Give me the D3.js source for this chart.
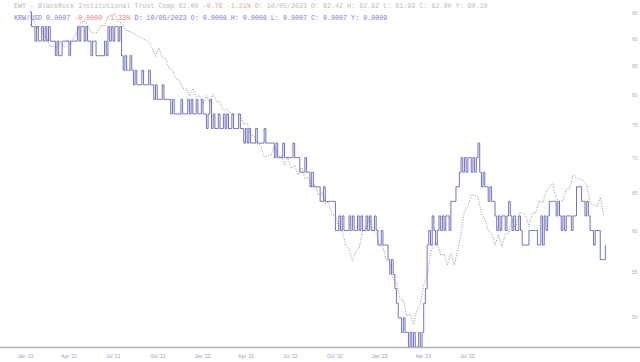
<!DOCTYPE html>
<html>
<head>
<meta charset="utf-8">
<script src="https://cdn.jsdelivr.net/npm/d3@7"></script>
<style>
  body { margin: 0; background: #fff; }
  svg { display: block; }
  text { font-family: 'Liberation Mono', 'DejaVu Sans Mono', monospace; }
</style>
</head>
<body>
<div id="chart"></div>
<script>
// EWY weekly closes (right axis, log scale)
var ewy = [
  92.6, 93.9, 92.0, 92.3, 90.6, 90.0, 88.6, 88.5, 88.2, 89.6,
  88.3, 89.8, 88.7, 90.4, 91.3, 93.2, 93.4, 92.7, 91.3, 91.0,
  91.3, 92.6, 92.4, 94.3, 94.6, 94.9, 93.2, 93.1, 91.7, 91.4,
  91.2, 90.9, 90.4, 90.1, 89.7, 89.4, 88.2, 86.7, 88.2, 86.5,
  86.4, 84.5, 84.2, 82.7, 82.5, 81.0, 81.1, 79.7, 81.0, 79.6,
  79.8, 78.3, 79.8, 78.7, 80.1, 78.7, 78.8, 77.3, 77.5, 77.0,
  76.8, 76.7, 76.5, 75.1, 75.2, 73.5, 73.3, 72.0, 71.8, 70.1,
  70.3, 70.4, 71.8, 70.1, 70.3, 68.9, 70.1, 68.4, 68.9, 67.5,
  68.6, 67.0, 67.2, 65.8, 66.1, 64.7, 65.0, 63.6, 63.7, 62.0,
  62.0, 60.3, 60.0, 58.2, 57.8, 56.3, 57.4, 57.8, 59.9, 60.2,
  61.8, 60.0, 59.7, 58.2, 58.0, 56.3, 56.1, 54.1, 53.8, 51.9,
  51.8, 50.1, 50.3, 49.2, 50.7, 51.4, 53.5, 54.6, 57.2, 58.4,
  58.5, 57.0, 57.1, 55.8, 57.2, 55.8, 57.5, 59.7, 62.6, 63.1,
  64.7, 64.7, 64.4, 62.3, 61.5, 60.0, 59.7, 58.2, 59.5, 58.0,
  59.5, 59.7, 61.5, 60.2, 62.3, 62.3, 62.0, 60.5, 62.3, 62.3,
  63.9, 63.6, 65.0, 65.8, 66.4, 64.2, 63.9, 63.9, 65.5, 65.6,
  67.5, 67.0, 66.9, 66.7, 66.1, 63.6, 63.4, 63.1, 64.4, 62.0
];

// KRW/USD twice-weekly closes, in units of 0.00001 USD
var krwUsd = [
  92, 91, 91, 90, 91, 90, 90, 91, 90, 91, 90, 91, 90, 90,
  90, 89, 90, 89, 89, 90, 90, 90, 90, 89, 90, 90, 90, 90,
  91, 90, 91, 91, 90, 91, 90, 90, 89, 90, 90, 89, 89, 89,
  89, 89, 90, 89, 91, 90, 91, 90, 91, 91, 90, 91, 89, 88,
  89, 88, 88, 89, 88, 87, 88, 87, 87, 87, 88, 87, 87, 87,
  88, 87, 87, 86, 87, 86, 86, 86, 87, 86, 86, 86, 86, 85,
  86, 85, 85, 85, 85, 86, 85, 85, 85, 86, 85, 86, 85, 85,
  86, 85, 85, 86, 85, 85, 84, 85, 86, 84, 85, 84, 84, 85,
  84, 84, 85, 84, 85, 84, 84, 85, 84, 84, 84, 85, 84, 84,
  83, 84, 83, 84, 83, 83, 83, 84, 83, 83, 83, 83, 84, 83,
  83, 83, 83, 83, 82, 83, 82, 82, 82, 83, 82, 82, 82, 82,
  82, 83, 82, 82, 82, 81, 81, 81, 82, 81, 81, 80, 81, 80,
  80, 80, 80, 79, 79, 80, 79, 79, 79, 79, 79, 79, 77, 77,
  78, 77, 78, 77, 77, 77, 78, 77, 78, 77, 77, 78, 77, 78,
  77, 77, 78, 77, 78, 77, 77, 78, 77, 76, 76, 77, 76, 76,
  76, 75, 74, 75, 74, 73, 72, 71, 71, 70, 71, 70, 70, 69,
  70, 69, 70, 69, 69, 70, 69, 70, 72, 73, 76, 77, 76, 78,
  77, 76, 77, 78, 77, 78, 77, 78, 78, 77, 79, 79, 79, 80,
  80, 81, 82, 81, 82, 81, 82, 82, 81, 82, 81, 82, 83, 81,
  80, 81, 80, 80, 79, 80, 79, 79, 78, 77, 78, 77, 78, 78,
  77, 78, 79, 78, 77, 78, 77, 77, 78, 77, 76, 76, 76, 76,
  77, 77, 77, 77, 77, 76, 76, 78, 76, 78, 77, 78, 79, 79,
  79, 79, 78, 79, 78, 77, 78, 77, 78, 78, 78, 77, 78, 78,
  80, 80, 80, 79, 79, 78, 79, 78, 77, 77, 76, 77, 77, 77,
  75, 75, 75, 76
].map(function(v) { return v / 1e5; });

var startDate = new Date(2021, 0, 11);
var ewyDates = ewy.map(function(d, i) { return d3.timeDay.offset(startDate, i * 7); });
var fxDates = krwUsd.map(function(d, i) { return d3.timeHour.offset(startDate, i * 84); });

var priceTicks = [95, 90, 85, 80, 75, 70, 65, 60, 55, 50];
var timeTickLabels = ["Jan '21", "Apr '21", "Jul '21", "Oct '21", "Jan '22", "Apr '22",
  "Jul '22", "Oct '22", "Jan '23", "Apr '23", "Jul '23"];
var timeTicks = timeTickLabels.map(function(d, i) { return new Date(2021, i * 3, 1); });

var width = 640, height = 362;

var svg = d3.select('#chart').append('svg')
  .attr('width', width)
  .attr('height', height);

// Scales
var x = d3.scaleTime()
  .domain([new Date(2021, 0, 1), new Date(2024, 4, 22)])
  .range([25, 625]);
var y = d3.scaleLog()
  .domain([50, 95])
  .range([317, 13]);
var yFx = d3.scaleLinear()
  .domain([0.00069, 0.00092])
  .range([347, 12]);

// EWY - dotted grey
var ewyLine = d3.line()
  .x(function(d, i) { return x(ewyDates[i]); })
  .y(function(d) { return y(d); });

svg.append('path')
  .datum(ewy)
  .attr('fill', 'none')
  .attr('stroke', '#949494')
  .attr('stroke-width', 1)
  .attr('stroke-dasharray', '1,1.6')
  .attr('d', ewyLine);

// KRW/USD - stepped blue
var fxLine = d3.line()
  .curve(d3.curveStepAfter)
  .x(function(d, i) { return x(fxDates[i]); })
  .y(function(d) { return yFx(d); });

svg.append('path')
  .datum(krwUsd)
  .attr('fill', 'none')
  .attr('stroke', '#6262b8')
  .attr('stroke-width', 0.9)
  .attr('d', fxLine);

// Bottom rule
svg.append('line')
  .attr('x1', 0).attr('x2', width)
  .attr('y1', 347.5).attr('y2', 347.5)
  .attr('stroke', '#b4b4b4')
  .attr('stroke-width', 1.5);

// Right axis
var yAxis = svg.append('g')
  .attr('transform', 'translate(629,0)')
  .call(d3.axisRight(y).tickValues(priceTicks).tickFormat(d3.format('d')).tickSize(0));
yAxis.select('.domain').remove();
yAxis.selectAll('text')
  .attr('fill', '#b0b0b0')
  .style('font-size', '5px')
  .style('font-family', 'Liberation Sans, sans-serif');

// Time axis
var xAxis = svg.append('g')
  .attr('transform', 'translate(0,351)')
  .call(d3.axisBottom(x).tickValues(timeTicks)
    .tickFormat(function(d, i) { return timeTickLabels[i]; })
    .tickSize(0));
xAxis.select('.domain').remove();
xAxis.selectAll('text')
  .attr('fill', '#9a9acc')
  .style('font-size', '5px')
  .style('font-family', 'Liberation Sans, sans-serif');

// Header
var header = svg.append('g').style('font-size', '6.7px');

var l1 = header.append('text').attr('x', 14).attr('y', 8).attr('fill', '#bcbcbc');
l1.append('tspan').text('EWY - BlackRock Institutional Trust Comp 62.00 ');
l1.append('tspan').attr('fill', '#f4a0a0').text('-0.76 -1.21%');
l1.append('tspan').text(' D: 10/05/2023 O: 62.42 H: 62.62 L: 61.93 C: 62.00 Y: 90.10');

var l2 = header.append('text').attr('x', 14).attr('y', 20).attr('fill', '#7c7cd0');
l2.append('tspan').text('KRW/USD 0.0007 ');
l2.append('tspan').attr('fill', '#f08080').text('-0.0000 -1.33%');
l2.append('tspan').text(' D: 10/05/2023 O: 0.0008 H: 0.0008 L: 0.0007 C: 0.0007 Y: 0.0009');
</script>
</body>
</html>
